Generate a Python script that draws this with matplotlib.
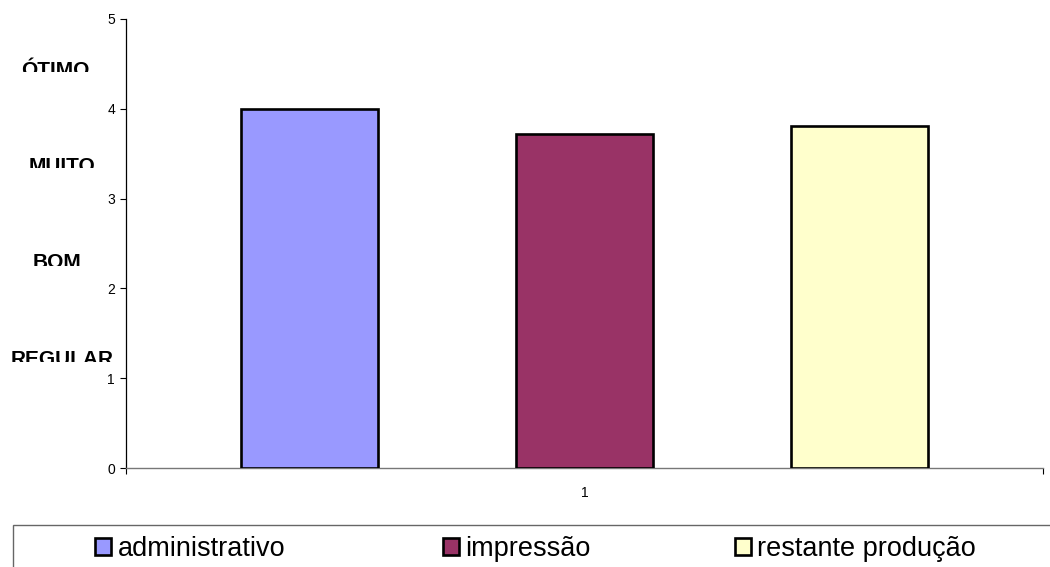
import matplotlib
matplotlib.use('Agg')
import matplotlib.pyplot as plt
import matplotlib.patches as mpatches
from matplotlib.transforms import Bbox, TransformedBbox

plt.rcParams['font.family'] = ['Liberation Sans', 'DejaVu Sans']

# Daten
series = ['administrativo', 'impressão', 'restante produção']
values = [4.0, 3.72, 3.81]
colors = ['#9999FF', '#993366', '#FFFFCC']
category = '1'
y_ticks = [0, 1, 2, 3, 4, 5]
rating_labels = ['ÓTIMO', 'MUITO', 'BOM', 'REGULAR']

W, H = 1050, 567
fig = plt.figure(figsize=(W / 100, H / 100), dpi=100)
ax = fig.add_axes([126 / W, 1 - 468 / H, (1043 - 126) / W, (468 - 19) / H])

bar_w = 0.15
for i, (name, val, col) in enumerate(zip(series, values, colors)):
    ax.bar((i - 1) * 2 * bar_w, val, width=bar_w, color=col,
           edgecolor='black', linewidth=1.9, label=name, zorder=3)

ax.set_xlim(-0.5, 0.5)
ax.set_ylim(0, 5)
ax.set_yticks(y_ticks)
ax.tick_params(axis='y', direction='out', length=4, width=0.8, pad=4, labelsize=10)
ax.set_xticks([0])
ax.set_xticklabels([category])
ax.set_xticks([-0.5, 0.5], minor=True)
ax.tick_params(axis='x', which='major', length=0, pad=13, labelsize=10)
ax.tick_params(axis='x', which='minor', direction='out', length=4, width=0.8)

for s in ['top', 'right']:
    ax.spines[s].set_visible(False)
ax.spines['left'].set_color('black')
ax.spines['left'].set_linewidth(0.9)
ax.spines['bottom'].set_color('#777777')
ax.spines['bottom'].set_linewidth(1.0)

# Bewertungstexte links (unten abgeschnitten wie im Original)
label_pos = [(55, 76, 72), (62, 172, 168), (57, 268, 266), (62, 365, 362)]
for txt, (cx, base, clip) in zip(rating_labels, label_pos):
    t = fig.text(cx / W, 1 - base / H, txt, ha='center', va='baseline',
                 fontsize=15, fontweight='bold')
    t.set_clip_box(TransformedBbox(Bbox([[0, 1 - clip / H], [1, 1]]), fig.transFigure))
    t.set_clip_on(True)

# Legendenrahmen
frame = mpatches.Rectangle((13 / W, -0.1), 1.1, 1 - 525 / H + 0.1,
                           transform=fig.transFigure, fill=False,
                           edgecolor='#666666', linewidth=1.0, clip_on=False)
fig.patches.append(frame)

handles, labels = ax.get_legend_handles_labels()
leg_x = [95, 443, 735]
for h, lab, x in zip(handles, labels, leg_x):
    fig.legend([h], [lab], loc='center left', bbox_to_anchor=(x / W, 1 - 549 / H),
               frameon=False, fontsize=19.5, borderpad=0, borderaxespad=0,
               handlelength=0.6, handleheight=0.6, handletextpad=0.23)

fig.savefig('out.png', dpi=100)
